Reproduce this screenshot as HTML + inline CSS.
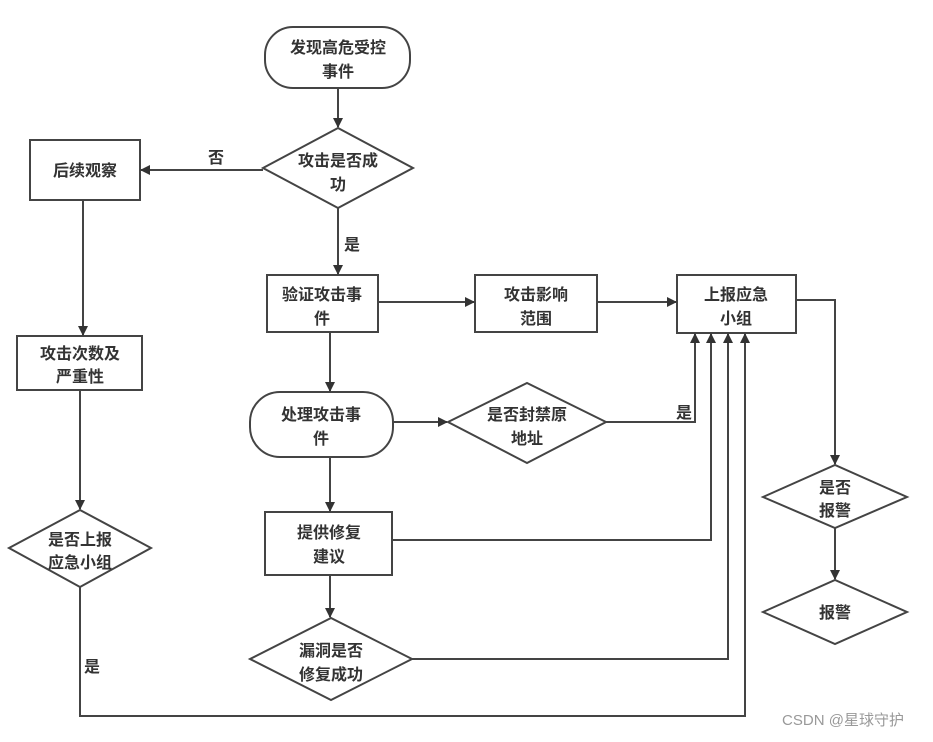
<!DOCTYPE html>
<html><head><meta charset="utf-8"><style>
body{margin:0;background:#fff}
svg text{font-family:"Liberation Sans","Noto Sans CJK SC",sans-serif;font-size:16px;font-weight:bold;fill:#333;text-anchor:middle}
</style></head><body>
<svg width="933" height="737" viewBox="0 0 933 737" xmlns="http://www.w3.org/2000/svg">
<defs><marker id="a" markerWidth="10" markerHeight="10" refX="9" refY="5" orient="auto" markerUnits="userSpaceOnUse"><path d="M0,0 L10,5 L0,10 z" fill="#333"/></marker></defs>
<g fill="none" stroke="#444" stroke-width="2">
<rect x="265" y="27" width="145" height="61" rx="28"/>
<polygon points="263,168 338,128 413,168 338,208"/>
<rect x="30" y="140" width="110" height="60"/>
<rect x="17" y="336" width="125" height="54"/>
<polygon points="9,548 80,510 151,548 80,587"/>
<rect x="267" y="275" width="111" height="57"/>
<rect x="475" y="275" width="122" height="57"/>
<rect x="677" y="275" width="119" height="58"/>
<rect x="250" y="392" width="143" height="65" rx="30"/>
<polygon points="448,422 527,383 606,422 527,463"/>
<rect x="265" y="512" width="127" height="63"/>
<polygon points="250,659 331,618 412,659 331,700"/>
<polygon points="763,497 835,465 907,497 835,528"/>
<polygon points="763,612 835,580 907,612 835,644"/>
</g>
<g fill="none" stroke="#444" stroke-width="2" marker-end="url(#a)">
<line x1="338" y1="88" x2="338" y2="127"/>
<line x1="263" y1="170" x2="141" y2="170"/>
<line x1="83" y1="200" x2="83" y2="335"/>
<line x1="80" y1="390" x2="80" y2="509"/>
<polyline points="80,587 80,716 745,716 745,334"/>
<line x1="338" y1="208" x2="338" y2="274"/>
<line x1="378" y1="302" x2="474" y2="302"/>
<line x1="597" y1="302" x2="676" y2="302"/>
<polyline points="796,300 835,300 835,464"/>
<line x1="835" y1="528" x2="835" y2="579"/>
<line x1="330" y1="332" x2="330" y2="391"/>
<line x1="393" y1="422" x2="447" y2="422"/>
<polyline points="606,422 695,422 695,334"/>
<line x1="330" y1="457" x2="330" y2="511"/>
<polyline points="392,540 711,540 711,334"/>
<line x1="330" y1="575" x2="330" y2="617"/>
<polyline points="412,659 728,659 728,334"/>
</g>
<text x="338" y="53">发现高危受控</text><text x="338" y="77">事件</text>
<text x="338" y="166">攻击是否成</text><text x="338" y="190">功</text>
<text x="216" y="163">否</text>
<text x="352" y="250">是</text>
<text x="85" y="176">后续观察</text>
<text x="80" y="359">攻击次数及</text><text x="80" y="382">严重性</text>
<text x="80" y="545">是否上报</text><text x="80" y="568">应急小组</text>
<text x="92" y="672">是</text>
<text x="322" y="300">验证攻击事</text><text x="322" y="324">件</text>
<text x="536" y="300">攻击影响</text><text x="536" y="324">范围</text>
<text x="736" y="300">上报应急</text><text x="736" y="324">小组</text>
<text x="321" y="420">处理攻击事</text><text x="321" y="444">件</text>
<text x="527" y="420">是否封禁原</text><text x="527" y="444">地址</text>
<text x="684" y="418">是</text>
<text x="329" y="538">提供修复</text><text x="329" y="562">建议</text>
<text x="331" y="656">漏洞是否</text><text x="331" y="680">修复成功</text>
<text x="835" y="493">是否</text><text x="835" y="516">报警</text>
<text x="835" y="618">报警</text>
<text x="843" y="725" style="font-weight:normal;fill:#999;font-size:15px">CSDN @星球守护</text>
</svg>
</body></html>
